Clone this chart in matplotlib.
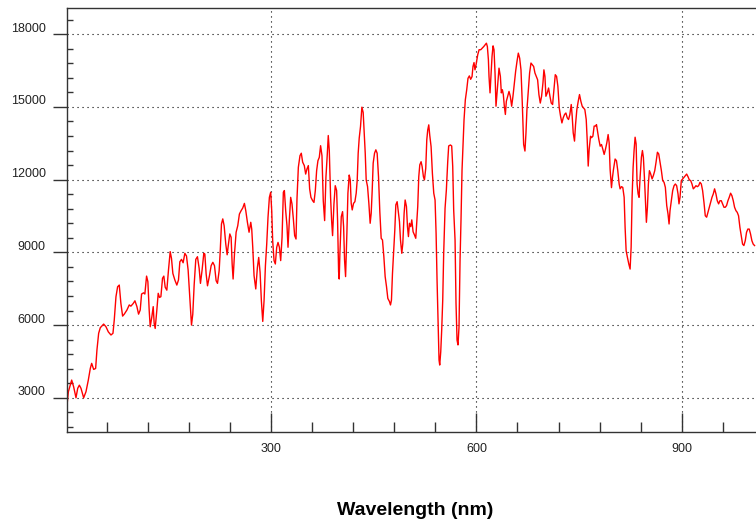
import matplotlib
matplotlib.use("Agg")
import matplotlib.pyplot as plt
import matplotlib.transforms as mtransforms
from matplotlib.ticker import FixedLocator, MultipleLocator

# Spectrum, stored in five pieces along the wavelength axis
seg_a_nm = [2.0, 4.0, 8.8, 11.7, 15.1, 17.6, 20.0, 22.4, 26.3, 29.7, 33.1, 36.0, 38.0, 40.9, 43.8,
            45.7, 48.2, 50.6, 55.5, 58.9, 62.3, 66.2, 69.1, 71.0, 73.5, 75.9, 78.3, 80.7, 83.2, 85.6,
            89.5, 92.9, 95.3, 98.7, 101.2, 104.1, 106.5, 108.9, 110.9, 113.8, 115.7, 118.2, 120.1,
            122.0, 123.5, 125.9, 127.9, 129.3, 130.8, 133.2, 135.2, 137.1, 139.1, 141.5, 143.4,
            145.4, 147.8, 150.2, 152.7, 154.6, 156.6, 159.5, 162.4, 164.8, 166.8, 169.2, 171.6,
            174.1, 176.5, 178.9, 181.3, 183.8, 185.7, 187.7, 190.1, 192.5, 195.0, 196.9, 199.3, 201.8]
seg_a_counts = [2700, 3250, 3730, 3450, 3000, 3390, 3520, 3390, 3000, 3250, 3730, 4210, 4420, 4170,
                4210, 4970, 5660, 5890, 6040, 5930, 5720, 5590, 5660, 6210, 7170, 7580, 7650, 6890,
                6370, 6450, 6620, 6830, 6780, 6890, 7000, 6760, 6450, 6620, 7280, 7330, 7280, 8020,
                7790, 6620, 5930, 6340, 6760, 6070, 5860, 6620, 7310, 7140, 7170, 7930, 8020, 7560,
                7440, 8270, 9030, 8750, 8130, 7860, 7650, 7860, 8610, 8710, 8570, 8960, 8850, 8270,
                7170, 6000, 6450, 7650, 8710, 8820, 8340, 7720, 8270, 8960]

seg_b_nm = [203.3, 205.2, 207.2, 210.1, 212.5, 215.0, 217.4, 219.8, 221.8, 224.2, 225.7, 227.6,
            229.5, 231.5, 233.9, 235.9, 237.8, 239.8, 241.7, 243.2, 244.6, 246.6, 249.0, 251.4,
            253.8, 256.3, 258.7, 261.1, 263.1, 265.5, 267.9, 270.4, 271.8, 273.3, 275.2, 277.7,
            280.1, 282.0, 284.0, 285.9, 287.9, 289.8, 291.8, 293.7, 295.6, 297.6, 299.5, 301.0,
            302.4, 304.4, 306.3, 308.3, 310.2, 312.2, 314.1, 316.1, 318.0, 319.5, 321.4, 323.3,
            324.8, 326.7, 328.7, 330.6, 332.6, 334.5, 336.5, 337.9, 339.9, 342.3, 344.2, 346.2,
            348.6, 350.6, 352.5, 354.5, 356.4, 358.3, 360.8, 362.7, 364.7, 366.6, 368.5, 370.5,
            372.4, 374.4, 376.3, 378.3, 380.2, 382.2, 383.6, 385.1, 387.0, 388.5, 389.9, 391.9,
            393.8, 395.8, 397.2, 398.7, 399.6]
seg_b_counts = [8930, 8110, 7620, 8040, 8450, 8590, 8450, 7830, 7720, 8240, 9000, 10170, 10380,
                10100, 9340, 8900, 9340, 9760, 9620, 8520, 7900, 8930, 9830, 10100, 10580, 10720,
                10830, 11020, 10720, 10240, 9830, 10240, 9960, 9210, 8040, 7490, 8380, 8790, 8180,
                7000, 6150, 7000, 8450, 9340, 10450, 11270, 11480, 10720, 9480, 8660, 8520, 9210,
                9410, 9210, 8660, 9620, 11480, 11550, 10720, 10100, 9210, 10310, 11270, 11000,
                10380, 9690, 9550, 11200, 12510, 12990, 13090, 12720, 12580, 12230, 12440, 12580,
                11620, 11270, 11130, 11060, 11550, 12370, 12780, 12920, 13400, 12990, 11130, 10310,
                12100, 13060, 13820, 13200, 11270, 10310, 9690, 11000, 11750, 11550, 10310, 8200,
                7900]

seg_c_nm = [400.6, 402.6, 404.5, 406.0, 407.4, 408.9, 410.8, 412.3, 414.2, 415.7, 417.1, 418.6,
            420.5, 422.5, 424.4, 425.9, 427.3, 428.8, 430.7, 432.7, 434.6, 436.1, 437.6, 439.0,
            441.0, 442.9, 444.8, 446.3, 447.8, 449.2, 451.2, 453.1, 455.0, 457.0, 458.9, 460.9,
            462.8, 464.8, 466.7, 468.7, 470.6, 473.0, 474.5, 475.9, 477.4, 479.3, 480.8, 482.3,
            484.2, 486.2, 487.6, 489.1, 491.0, 492.5, 494.4, 495.9, 497.8, 499.3, 500.7, 502.2,
            504.1, 505.6, 507.5, 509.5, 511.4, 512.9, 514.3, 515.8, 517.3, 519.2, 520.7, 522.6,
            524.1, 526.0, 527.5, 528.9, 530.4, 531.8, 533.8, 535.7, 537.7, 539.6, 541.1, 542.5,
            544.0, 545.4, 546.4, 547.9, 549.3, 550.8, 552.2, 554.2, 556.1, 558.1, 559.5, 562.0,
            563.9, 565.4, 566.8, 568.8, 570.2, 571.7, 573.1, 574.6, 576.1, 577.5, 579.0, 580.4,
            581.9, 583.8, 585.8, 587.7, 589.7, 591.6, 593.6, 595.0, 596.5, 597.9, 599.4]
seg_c_counts = [8960, 10470, 10680, 10060, 8680, 8000, 9790, 11440, 12190, 11990, 11020, 10750,
                11020, 11090, 11440, 11990, 13090, 13710, 14190, 14990, 14770, 13910, 13090, 11990,
                11710, 11020, 10200, 10610, 11570, 12680, 13090, 13230, 13090, 12120, 10680, 9580,
                9510, 8820, 8000, 7580, 7100, 6970, 6830, 7030, 8130, 9100, 9920, 10960, 11090,
                10610, 10270, 9510, 8960, 9370, 10610, 11160, 10890, 10060, 9650, 10200, 10060,
                10340, 9850, 9720, 9580, 10270, 10890, 12120, 12610, 12740, 12540, 12120, 11990,
                12470, 13640, 14050, 14260, 13840, 13360, 12260, 11440, 11160, 9790, 7860, 6070,
                4560, 4350, 4900, 5800, 7030, 8960, 10820, 11570, 12740, 13390, 13430, 13390, 12540,
                10750, 9510, 6900, 5380, 5180, 5930, 8680, 10340, 12400, 13360, 14460, 15290, 15700,
                16180, 16280, 16140, 16250, 16670, 16830, 16530, 16730]

seg_d_nm = [601.9, 603.9, 606.3, 608.7, 610.7, 612.6, 614.6, 616.0, 617.5, 618.4, 619.9, 621.4,
            622.8, 624.3, 625.7, 627.2, 628.6, 630.1, 631.6, 633.0, 635.0, 636.4, 637.9, 639.3,
            640.8, 642.3, 643.7, 645.7, 647.6, 649.5, 651.5, 653.4, 655.4, 657.3, 659.3, 661.2,
            663.2, 665.1, 667.0, 669.0, 670.9, 672.4, 673.8, 675.8, 677.7, 679.7, 681.6, 683.6,
            685.5, 687.5, 689.4, 691.3, 693.3, 695.2, 697.2, 698.6, 700.1, 701.5, 703.5, 705.4,
            707.4, 709.3, 711.3, 713.2, 715.2, 717.1, 719.0, 721.0, 722.9, 724.9, 726.8, 728.8,
            730.7, 732.7, 734.6, 736.5, 738.5, 739.9, 741.4, 743.3, 744.8, 746.7, 748.7, 750.6,
            752.6, 754.5, 756.5, 758.4, 760.4, 761.8, 763.3, 764.7, 766.7, 768.1, 770.1, 772.0,
            774.0, 775.4, 776.9, 778.8, 780.8, 782.7, 784.7, 786.6, 788.5, 790.5, 792.4, 793.9,
            795.3, 797.3, 798.7, 800.2]
seg_d_counts = [17150, 17360, 17360, 17430, 17490, 17560, 17630, 17490, 16950, 16260, 15580, 16330,
                17080, 17520, 17360, 16400, 15030, 15580, 16120, 16600, 16260, 15580, 15710, 15510,
                15030, 14690, 15230, 15440, 15640, 15440, 15030, 15440, 15990, 16470, 16880, 17220,
                17010, 16530, 15160, 13450, 13180, 13930, 14890, 15640, 16400, 16810, 16740, 16670,
                16400, 16260, 16120, 15510, 15160, 15440, 15990, 16530, 16260, 15440, 15580, 15780,
                15440, 15160, 15100, 15710, 16330, 16260, 15850, 14960, 14620, 14340, 14550, 14690,
                14750, 14550, 14480, 14690, 15100, 14620, 13930, 13590, 14270, 14890, 15230, 15510,
                15230, 15030, 14960, 14890, 14480, 13660, 12560, 13250, 13790, 13730, 13790, 14210,
                14210, 14270, 14000, 13660, 13380, 13450, 13250, 13040, 13250, 13520, 13860, 13520,
                12420, 11670, 12080, 12420]

seg_e_nm = [802.6, 804.6, 806.5, 808.5, 809.9, 811.9, 813.8, 815.8, 817.2, 818.7, 820.6, 822.6,
            824.5, 826.0, 827.4, 828.9, 830.3, 831.8, 833.3, 834.7, 836.2, 837.6, 839.1, 841.0,
            842.5, 843.9, 845.4, 846.9, 848.3, 849.8, 851.2, 852.7, 854.6, 856.6, 858.5, 860.5,
            862.4, 864.4, 866.3, 868.2, 870.2, 872.1, 874.1, 876.0, 878.0, 879.9, 881.4, 882.8,
            884.8, 886.7, 888.7, 890.6, 892.5, 894.5, 895.9, 897.4, 899.3, 901.3, 903.2, 905.2,
            907.1, 909.1, 911.0, 913.0, 914.9, 916.8, 918.8, 920.7, 922.7, 924.6, 926.6, 928.5,
            930.4, 932.4, 934.3, 936.3, 938.2, 940.2, 942.1, 944.1, 946.0, 947.9, 949.9, 951.8,
            953.8, 955.7, 957.7, 959.6, 961.6, 963.5, 965.4, 967.4, 969.3, 971.3, 973.2, 975.2,
            977.1, 979.1, 981.0, 982.9, 984.9, 986.8, 988.8, 990.7, 992.7, 994.6, 996.5, 998.5,
            1000.4, 1002.4, 1004.3, 1006.3]
seg_e_counts = [12850, 12780, 12370, 11820, 11620, 11710, 11680, 11270, 10030, 9070, 8790, 8520,
                8310, 9210, 11270, 12510, 13200, 13750, 13470, 11820, 11410, 11270, 12100, 12920,
                13200, 12920, 12100, 11130, 10240, 10860, 11820, 12370, 12230, 12030, 12170, 12370,
                12720, 13130, 13060, 12720, 12370, 11960, 11890, 11680, 10930, 10580, 10170, 10720,
                11130, 11550, 11750, 11820, 11750, 11410, 11000, 11270, 11960, 12030, 12100, 12170,
                12230, 12120, 11990, 11960, 11820, 11620, 11680, 11750, 11710, 11750, 11890, 11820,
                11550, 11060, 10510, 10450, 10650, 10860, 11060, 11270, 11410, 11620, 11410, 11130,
                11000, 11130, 11130, 11000, 10860, 10860, 10930, 11130, 11270, 11440, 11340, 11130,
                10860, 10720, 10650, 10510, 10030, 9690, 9340, 9280, 9480, 9830, 9960, 9960, 9760,
                9480, 9340, 9280]

x_major = [300, 600, 900]
y_major = [3000, 6000, 9000, 12000, 15000, 18000]

wavelength = seg_a_nm + seg_b_nm + seg_c_nm + seg_d_nm + seg_e_nm
counts = seg_a_counts + seg_b_counts + seg_c_counts + seg_d_counts + seg_e_counts

plt.rcParams["font.family"] = ["Liberation Sans", "DejaVu Sans"]

fig = plt.figure(figsize=(7.56, 5.21), dpi=100)
# the plot runs a little past the right edge of the figure
ax = fig.add_axes([0.0882, 0.1714, 0.9214, 0.8127])

ax.plot(wavelength, counts, color="#ff0000", linewidth=1.0)

ax.set_xlim(1.5, 1019)
ax.set_ylim(1600, 19070)

ax.xaxis.set_major_locator(FixedLocator(x_major))
ax.xaxis.set_minor_locator(MultipleLocator(60))
ax.yaxis.set_major_locator(FixedLocator(y_major))
ax.yaxis.set_minor_locator(MultipleLocator(600))

axis_grey = "#333333"
ax.tick_params(axis="x", which="major", direction="in", length=13.7, width=1.0,
               color=axis_grey, pad=8, labelsize=9, labelcolor="#222222")
ax.tick_params(axis="x", which="minor", direction="in", length=7.2, width=1.0, color=axis_grey)
ax.tick_params(axis="y", which="major", direction="out", length=10, width=1.0,
               color=axis_grey, pad=5, labelsize=9, labelcolor="#222222")
ax.tick_params(axis="y", which="minor", direction="in", length=4.3, width=1.0, color=axis_grey)

# y labels sit a bit above their tick marks
lift = mtransforms.ScaledTranslation(0, 7 / 100, fig.dpi_scale_trans)
for tick in ax.yaxis.get_major_ticks():
    tick.label1.set_transform(tick.label1.get_transform() + lift)

ax.grid(True, which="major", color="#000000", linestyle=(0, (1, 3.5)), linewidth=0.8)

for side in ["left", "bottom", "top"]:
    ax.spines[side].set_color(axis_grey)
    ax.spines[side].set_linewidth(1.0)
ax.spines["right"].set_visible(False)

ax.set_xlabel("Wavelength (nm)", fontsize=14, fontweight="bold", va="center")
ax.xaxis.set_label_coords(0.5, -0.185)

fig.savefig("out.png", dpi=100)
